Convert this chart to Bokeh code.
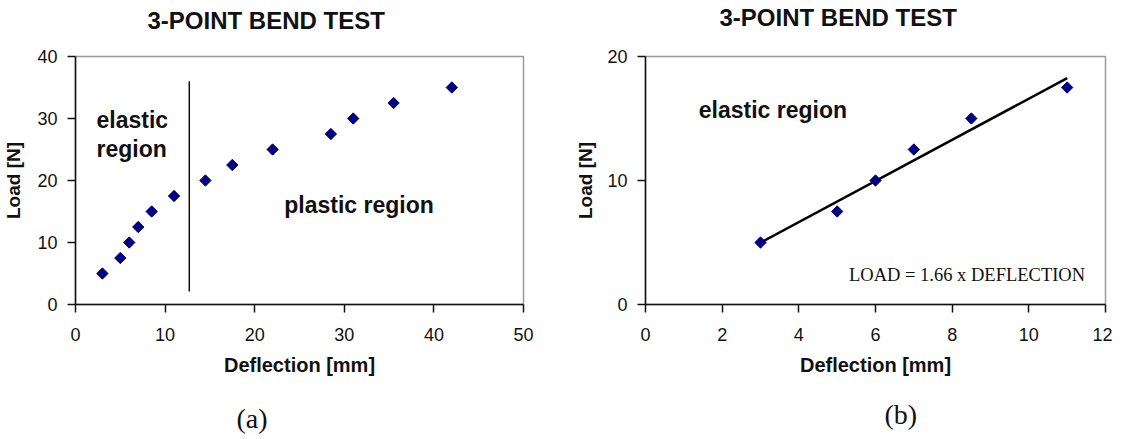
from bokeh.plotting import figure
from bokeh.layouts import row
from bokeh.models import Range1d, Label, FixedTicker, Title
from bokeh.embed import file_html
from bokeh.resources import INLINE
import math

# ---- data ----
deflection_a = [3, 5, 6, 7, 8.5, 11, 14.5, 17.5, 22, 28.5, 31, 35.5, 42]
load_a = [5, 7.5, 10, 12.5, 15, 17.5, 20, 22.5, 25, 27.5, 30, 32.5, 35]
elastic_limit_x = [12.7, 12.7]
elastic_limit_y = [2.1, 36]

deflection_b = [3, 5, 6, 7, 8.5, 11]
load_b = [5, 7.5, 10, 12.5, 15, 17.5]
fit_slope = 1.66

x_ticks_a = [0, 10, 20, 30, 40, 50]
y_ticks_a = [0, 10, 20, 30, 40]
x_ticks_b = [0, 2, 4, 6, 8, 10, 12]
y_ticks_b = [0, 10, 20]

TITLE = "3-POINT BEND TEST"
SANS = "Liberation Sans"
SERIF = "Liberation Serif"
INK = "#111111"
NAVY = "#000080"


def base_fig(width, height, xr, yr, xt, yt, borders, ylab_standoff):
    left, right, top, bottom = borders
    p = figure(width=width, height=height, x_range=Range1d(*xr), y_range=Range1d(*yr),
               output_backend="svg", toolbar_location=None, title=None,
               min_border_left=left, min_border_right=right,
               min_border_top=top, min_border_bottom=bottom)
    p.background_fill_color = "white"
    p.border_fill_color = "white"
    p.outline_line_color = "#9a9a9a"
    p.outline_line_width = 1.5
    p.grid.visible = False
    p.xaxis.ticker = FixedTicker(ticks=xt)
    p.yaxis.ticker = FixedTicker(ticks=yt)
    for ax in (p.xaxis[0], p.yaxis[0]):
        ax.axis_line_color = "#111111"
        ax.axis_line_width = 1.5
        ax.major_tick_line_color = "#111111"
        ax.major_tick_line_width = 1.5
        ax.major_tick_out = 8
        ax.major_tick_in = 0
        ax.minor_tick_out = 0
        ax.minor_tick_in = 0
        ax.major_label_text_font = SANS
        ax.major_label_text_font_size = "18px"
        ax.major_label_text_color = INK
        ax.axis_label_text_font = SANS
        ax.axis_label_text_font_style = "bold"
        ax.axis_label_text_color = INK
    p.xaxis.major_label_standoff = 15
    p.yaxis.major_label_standoff = 10
    p.xaxis.axis_label = "Deflection [mm]"
    p.yaxis.axis_label = "Load [N]"
    p.xaxis.axis_label_text_font_size = "20px"
    p.yaxis.axis_label_text_font_size = "19px"
    p.xaxis.axis_label_standoff = 10
    p.yaxis.axis_label_standoff = ylab_standoff
    return p


def spacer(p, side, size):
    p.add_layout(Title(text=" ", text_font_size="1px", standoff=size), side)


def add_title(p, text, side, offset, font, size, style, valign, standoff):
    p.add_layout(Title(text=text, align="left", offset=offset, text_font=font,
                       text_font_size=size, text_font_style=style, text_color=INK,
                       vertical_align=valign, standoff=standoff), side)


def data_label(p, text, x, y, font, size, style="bold"):
    p.add_layout(Label(x=x, y=y, text=text, text_font=font, text_font_size=size,
                       text_font_style=style, text_color=INK,
                       text_align="left", text_baseline="middle"))


H = 439

# ---- panel (a) ----
pa = base_fig(560, H, (0, 50), (0, 40), x_ticks_a, y_ticks_a, (68, 37, 52, H - 304), 10)
pa.line(elastic_limit_x, elastic_limit_y, line_color="#111111", line_width=1.5)
pa.scatter(deflection_a, load_a, marker="square", angle=math.pi / 4, size=8,
           fill_color=NAVY, line_color=NAVY)
data_label(pa, "elastic", 2.35, 29.8, SANS, "23px")
data_label(pa, "region", 2.35, 25.1, SANS, "23px")
data_label(pa, "plastic region", 23.3, 16.0, SANS, "23px")
spacer(pa, "above", 20)
add_title(pa, TITLE, "above", 72, SANS, "24px", "bold", "bottom", 0)
spacer(pa, "below", 21)
add_title(pa, "(a)", "below", 161, SERIF, "28px", "normal", "top", 0)

# ---- panel (b) ----
pb = base_fig(552, H, (0, 12), (0, 20), x_ticks_b, y_ticks_b, (85, 7, 56, H - 310), 8)
fit_x = [min(deflection_b), max(deflection_b)]
fit_y = [fit_slope * v for v in fit_x]
pb.line(fit_x, fit_y, line_color="#000000", line_width=2.5)
pb.scatter(deflection_b, load_b, marker="square", angle=math.pi / 4, size=8,
           fill_color=NAVY, line_color=NAVY)
data_label(pb, "elastic region", 1.39, 15.67, SANS, "23px")
data_label(pb, f"LOAD = {fit_slope} x DEFLECTION", 5.31, 2.36, SERIF, "18.5px", "normal")
spacer(pb, "above", 23)
add_title(pb, TITLE, "above", 74, SANS, "24px", "bold", "bottom", 0)
spacer(pb, "below", 17)
add_title(pb, "(b)", "below", 239, SERIF, "28px", "normal", "top", 0)

layout = row(pa, pb)
open("out.html", "w").write(file_html(layout, INLINE))
